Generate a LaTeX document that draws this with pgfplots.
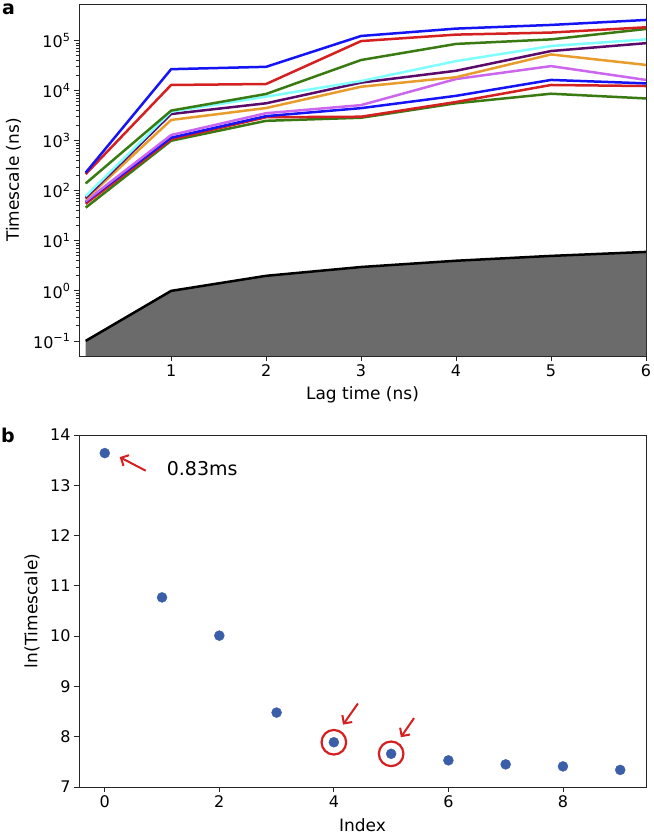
\documentclass[border=0pt]{standalone}
\usepackage{fontspec}
\setmainfont{DejaVu Sans}
\usepackage{pgfplots}
\pgfplotsset{compat=1.18}
\usetikzlibrary{arrows.meta}
\definecolor{cblue}{HTML}{1414F5}
\definecolor{cred}{HTML}{D42020}
\definecolor{cgreen}{HTML}{3A7A12}
\definecolor{ccyan}{HTML}{80FFFF}
\definecolor{cpurple}{HTML}{5A0A6A}
\definecolor{corange}{HTML}{E89C2C}
\definecolor{cviolet}{HTML}{CC66EE}
\definecolor{cfill}{HTML}{6B6B6B}
\definecolor{cdot}{HTML}{3B5EA8}
\definecolor{cann}{HTML}{D42020}
\begin{document}
\begin{tikzpicture}
\useasboundingbox (0,0) rectangle (653pt,834pt);
\pgfplotsset{
  every axis/.append style={
    width=567pt, height=352pt, scale only axis, anchor=south west,
    tick align=outside, xtick pos=bottom, ytick pos=left,
    major tick length=5pt, minor tick length=3pt,
    tick style={black!85, line width=0.8pt},
    axis line style={black!85, line width=0.8pt},
    ticklabel style={font=\fontsize{16}{19}\selectfont},
    label style={font=\fontsize{17}{20}\selectfont},
    xlabel style={at={(axis description cs:0.5,-0.125)}, anchor=base},
    /pgf/number format/assume math mode=true,
  }
}
% ---------- panel a ----------
\begin{axis}[
  at={(79pt,478pt)},
  ymode=log, xmin=0.03, xmax=6, ymin=0.05, ymax=5.4e5,
  xtick={1,2,3,4,5,6},
  ytick={0.1,1,10,100,1000,10000,100000},
  yticklabels={10\textsuperscript{−1},10\textsuperscript{0},10\textsuperscript{1},10\textsuperscript{2},10\textsuperscript{3},10\textsuperscript{4},10\textsuperscript{5}},
  xlabel={Lag time (ns)}, ylabel={Timescale (ns)},
  ylabel style={at={(axis description cs:-0.1155,0.5)}, anchor=center},
  every axis plot/.append style={line width=2.5pt, line join=round},
]
\addplot[fill=cfill, draw=none, line width=0pt] coordinates {(0.1,0.05) (0.1,0.1) (1,1) (2,2) (3,3) (4,4) (5,5) (6,6) (6,0.05)} -- cycle;
\addplot[black] coordinates {(0.1,0.1) (1,1) (2,2) (3,3) (4,4) (5,5) (6,6)};
\addplot[cgreen] coordinates {(0.1,46) (1,1000) (2,2500) (3,2880) (4,5600) (5,8700) (6,7000)};
\addplot[cred] coordinates {(0.1,55) (1,1070) (2,2950) (3,3020) (4,5940) (5,13000) (6,12400)};
\addplot[cblue] coordinates {(0.1,60) (1,1150) (2,3100) (3,4480) (4,7900) (5,16400) (6,14000)};
\addplot[cviolet] coordinates {(0.1,62) (1,1300) (2,3550) (3,5150) (4,17100) (5,31000) (6,16400)};
\addplot[corange] coordinates {(0.1,68) (1,2600) (2,4500) (3,12000) (4,18600) (5,53000) (6,32700)};
\addplot[cpurple] coordinates {(0.1,72) (1,3420) (2,5600) (3,14500) (4,25000) (5,62000) (6,89000)};
\addplot[ccyan] coordinates {(0.1,78) (1,3800) (2,7600) (3,15600) (4,39000) (5,78000) (6,106000)};
\addplot[cgreen] coordinates {(0.1,140) (1,4000) (2,8600) (3,41000) (4,86000) (5,106000) (6,171000)};
\addplot[cred] coordinates {(0.1,215) (1,13000) (2,13600) (3,98000) (4,132000) (5,145000) (6,185000)};
\addplot[cblue] coordinates {(0.1,230) (1,26900) (2,30000) (3,124000) (4,174000) (5,206000) (6,259000)};
\end{axis}
% ---------- panel b ----------
\begin{axis}[
  at={(79pt,47pt)},
  xmin=-0.45, xmax=9.45, ymin=7, ymax=14,
  xtick={0,2,4,6,8}, ytick={7,8,9,10,11,12,13,14},
  xlabel={Index}, ylabel={ln(Timescale)},
  ylabel style={at={(axis description cs:-0.083,0.5)}, anchor=center},
  clip=false,
]
\addplot[only marks, mark=*, mark size=5pt, cdot, mark options={draw=cdot, fill=cdot}] coordinates {
 (0,13.64) (1,10.77) (2,10.01) (3,8.48) (4,7.89) (5,7.66) (6,7.53) (7,7.45) (8,7.41) (9,7.34)};
\addplot[only marks, mark=o, mark size=12.3pt, mark options={draw=cann, line width=2.2pt}] coordinates {(4,7.89) (5,7.66)};
\draw[cann, line width=2pt, -{Straight Barb[length=6pt,width=12pt]}] (axis cs:0.715,13.29) -- (axis cs:0.26,13.56);
\draw[cann, line width=2pt, -{Straight Barb[length=6pt,width=12pt]}] (axis cs:4.42,8.66) -- (axis cs:4.16,8.24);
\draw[cann, line width=2pt, -{Straight Barb[length=6pt,width=12pt]}] (axis cs:5.40,8.37) -- (axis cs:5.17,7.99);
\node[anchor=base west, inner sep=0, font=\fontsize{19}{22}\selectfont] at (axis cs:1.08,13.2) {0.83ms};
\end{axis}
\node[anchor=base west, inner sep=0, font=\bfseries\fontsize{19}{22}\selectfont] at (2pt,819pt) {a};
\node[anchor=base west, inner sep=0, font=\bfseries\fontsize{19}{22}\selectfont] at (1pt,391pt) {b};
\end{tikzpicture}
\end{document}
